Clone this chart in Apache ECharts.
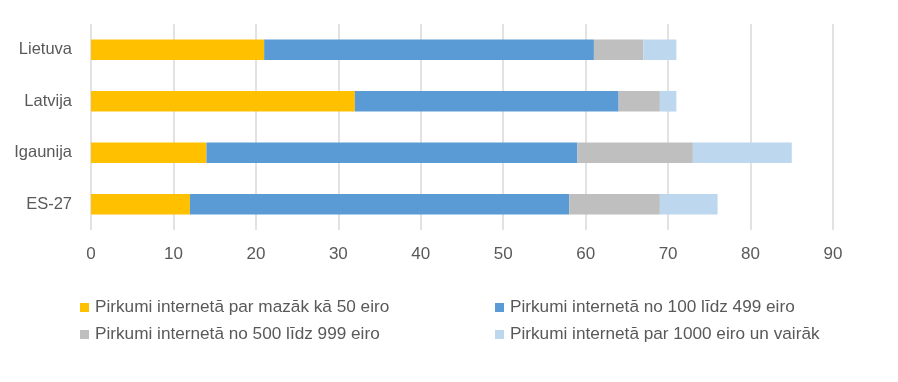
<!DOCTYPE html>
<html><head><meta charset="utf-8">
<script src="https://cdn.jsdelivr.net/npm/echarts@6/dist/echarts.min.js"></script>
<style>html,body{margin:0;padding:0;background:#fff}#c{width:898px;height:382px}</style>
</head><body><div id="c"></div>
<script>
const categories = ['Lietuva', 'Latvija', 'Igaunija', 'ES-27'];
const seriesNames = [
  'Pirkumi internetā par mazāk kā 50 eiro',
  'Pirkumi internetā no 100 līdz 499 eiro',
  'Pirkumi internetā no 500 līdz 999 eiro',
  'Pirkumi internetā par 1000 eiro un vairāk'
];
const under50 = [21, 32, 14, 12];
const from100to499 = [40, 32, 45, 46];
const from500to999 = [6, 5, 14, 11];
const over1000 = [4, 2, 12, 7];
const colors = ['#FFC000', '#5B9BD5', '#BFBFBF', '#BDD7EE'];
const values = [under50, from100to499, from500to999, over1000];

const chart = echarts.init(document.getElementById('c'));
const font = 'Liberation Sans';
const legendText = { color: '#595959', fontSize: 17.2, fontFamily: font, padding: [0, 0, 0, 1] };
chart.setOption({
  animation: false,
  grid: { left: 91, right: 65, top: 24, height: 206 },
  xAxis: {
    type: 'value', min: 0, max: 90, interval: 10,
    axisLine: { show: false }, axisTick: { show: false },
    splitLine: { lineStyle: { color: '#D9D9D9', width: 1.5 } },
    axisLabel: { color: '#595959', fontSize: 17, fontFamily: font, margin: 16 }
  },
  yAxis: {
    type: 'category', data: categories, inverse: true,
    axisLine: { show: false }, axisTick: { show: false },
    axisLabel: { color: '#595959', fontSize: 16.5, fontFamily: font, margin: 19 }
  },
  legend: [
    { data: [seriesNames[0], seriesNames[2]], orient: 'vertical', left: 80, top: 299, itemGap: 10,
      padding: 0, itemWidth: 9, itemHeight: 9, icon: 'rect', textStyle: legendText },
    { data: [seriesNames[1], seriesNames[3]], orient: 'vertical', left: 495, top: 299, itemGap: 10,
      padding: 0, itemWidth: 9, itemHeight: 9, icon: 'rect', textStyle: legendText }
  ],
  series: seriesNames.map((n, i) => ({
    name: n, type: 'bar', stack: 'total', data: values[i],
    barCategoryGap: '60%', itemStyle: { color: colors[i] }
  }))
});
</script></body></html>
